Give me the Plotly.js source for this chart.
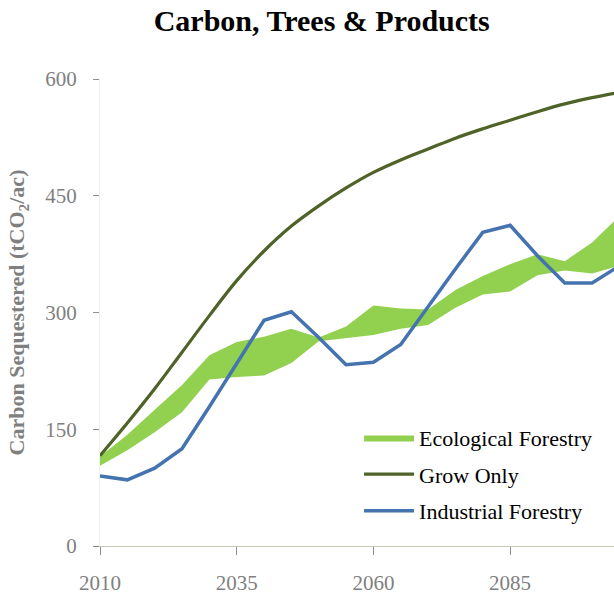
<!DOCTYPE html>
<html>
<head>
<meta charset="utf-8">
<script src="https://cdn.plot.ly/plotly-3.0.1.min.js"></script>
<style>
  html, body { margin: 0; padding: 0; background: #ffffff; }
  #chart { width: 614px; height: 596px; }
</style>
</head>
<body>
<div id="chart"></div>
<script>
// ---- data ----
const years = [2010, 2015, 2020, 2025, 2030, 2035, 2040, 2045, 2050, 2055,
               2060, 2065, 2070, 2075, 2080, 2085, 2090, 2095, 2100, 2105];
const growOnly = [116, 158, 202, 249, 296, 341, 379, 411, 437, 460,
                  480, 496, 510, 524, 536, 547, 558, 568, 576, 583];
const ecoLow = [103, 123, 146, 172, 214, 217, 219, 235, 263, 267,
                271, 279, 284, 306, 323, 327, 348, 354, 350, 360];
const ecoHigh = [115, 143, 175, 207, 245, 262, 269, 279, 268, 282,
                 309, 305, 304, 329, 347, 362, 375, 366, 390, 424];
const industrial = [90, 85, 100, 125, 179, 234, 290, 301, 268, 233,
                    236, 259, 308, 356, 403, 412, 373, 338, 338, 360];
const xTicks = [2010, 2035, 2060, 2085];
const yTicks = [0, 150, 300, 450, 600];

const serif = '"Liberation Serif", "DejaVu Serif", serif';

const traces = [
  {
    x: years, y: ecoLow, type: 'scatter', mode: 'lines',
    line: {width: 0, color: '#92D050'}, showlegend: false, hoverinfo: 'skip',
    legendgroup: 'eco'
  },
  {
    x: years, y: ecoHigh, type: 'scatter', mode: 'lines', name: 'Ecological Forestry',
    fill: 'tonexty', fillcolor: '#92D050', line: {width: 0, color: '#92D050'},
    legendgroup: 'eco'
  },
  {
    x: years, y: growOnly, type: 'scatter', mode: 'lines', name: 'Grow Only',
    line: {color: '#4F6228', width: 3.2, shape: 'spline', smoothing: 1},
    legendgroup: 'grow'
  },
  {
    x: years, y: industrial, type: 'scatter', mode: 'lines', name: 'Industrial Forestry',
    line: {color: '#4473B0', width: 3.5},
    legendgroup: 'ind'
  }
];

const layout = {
  width: 614, height: 596,
  margin: {l: 100, r: 0, t: 79, b: 50},
  paper_bgcolor: '#ffffff', plot_bgcolor: '#ffffff',
  font: {family: serif, color: '#7F7F7F'},
  title: {
    text: '<b>Carbon, Trees &amp; Products</b>',
    font: {family: serif, size: 30, color: '#000000'},
    xref: 'container', x: 0.524, xanchor: 'center',
    yref: 'container', y: 0.965, yanchor: 'middle'
  },
  xaxis: {
    range: [2010, 2104], tickvals: xTicks, ticktext: xTicks.map(String),
    showgrid: false, zeroline: false,
    showline: true, linecolor: '#C3C8B6', linewidth: 1,
    ticks: 'outside', ticklen: 8, tickcolor: '#8C8C8C', tickwidth: 1,
    tickfont: {family: serif, size: 21, color: '#7F7F7F'},
    ticklabelstandoff: 10
  },
  yaxis: {
    range: [0, 600], tickvals: yTicks, ticktext: yTicks.map(String),
    showgrid: false, zeroline: false,
    showline: true, linecolor: '#EEF2E4', linewidth: 1,
    ticks: 'outside', ticklen: 6, tickcolor: '#8C8C8C', tickwidth: 1,
    tickfont: {family: serif, size: 21, color: '#7F7F7F'},
    ticklabelstandoff: 12,
    title: {
      text: '<b>Carbon Sequestered (tCO<sub>2</sub>/ac)</b>',
      font: {family: serif, size: 22, color: '#7F7F7F'},
      standoff: 14
    }
  },
  legend: {
    x: 0.504, y: 0.277, xanchor: 'left', yanchor: 'top',
    bgcolor: 'rgba(0,0,0,0)', borderwidth: 0,
    font: {family: serif, size: 22, color: '#000000'},
    traceorder: 'grouped', tracegroupgap: 5,
    itemwidth: 50
  },
  showlegend: true
};

Plotly.newPlot('chart', traces, layout, {displayModeBar: false, staticPlot: true});
</script>
</body>
</html>
